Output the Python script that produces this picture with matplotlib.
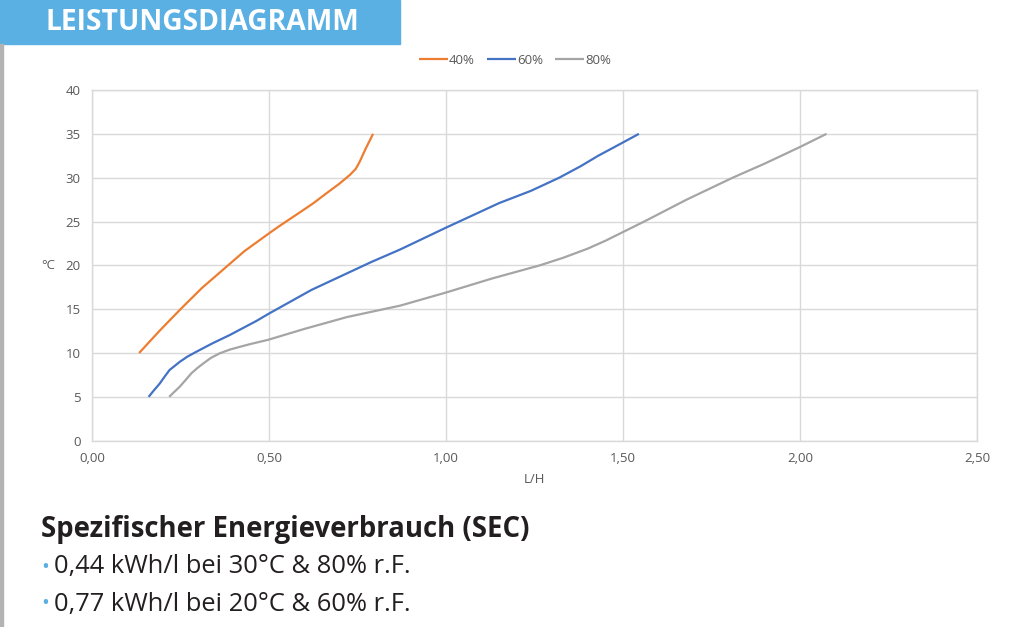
import matplotlib
matplotlib.use("Agg")
import matplotlib.pyplot as plt
from matplotlib.patches import Rectangle

plt.rcParams["font.family"] = ["Open Sans", "DejaVu Sans"]

# --- data -------------------------------------------------------------------
x40 = [0.133, 0.19, 0.25, 0.31, 0.37, 0.43, 0.50, 0.53, 0.58, 0.624, 0.66,
       0.70, 0.728, 0.745, 0.756, 0.773, 0.794]
y40 = [10.0, 12.5, 15.0, 17.4, 19.5, 21.6, 23.65, 24.5, 25.85, 27.05, 28.15,
       29.35, 30.3, 31.0, 31.8, 33.3, 35.0]

x60 = [0.16, 0.175, 0.191, 0.205, 0.219, 0.248, 0.27, 0.295, 0.34, 0.389,
       0.464, 0.50, 0.62, 0.79, 0.87, 1.00, 1.15, 1.24, 1.32, 1.38, 1.43, 1.49, 1.545]
y60 = [5.0, 5.75, 6.5, 7.3, 8.06, 9.0, 9.6, 10.15, 11.1, 12.05,
       13.65, 14.5, 17.2, 20.4, 21.8, 24.3, 27.1, 28.5, 30.0, 31.3, 32.5, 33.8, 35.0]

x80 = [0.218, 0.232, 0.248, 0.265, 0.281, 0.298, 0.314, 0.336, 0.361, 0.39,
       0.417, 0.45, 0.497, 0.60, 0.72, 0.87, 1.00, 1.13, 1.265, 1.33, 1.40,
       1.45, 1.50, 1.56, 1.68, 1.81, 1.90, 2.00, 2.075]
y80 = [5.0, 5.55, 6.16, 6.95, 7.7, 8.3, 8.8, 9.45, 9.97, 10.4,
       10.7, 11.05, 11.5, 12.75, 14.1, 15.4, 16.9, 18.5, 20.0, 20.85, 21.9,
       22.8, 23.8, 25.0, 27.5, 30.0, 31.6, 33.5, 35.0]

series_labels = ["40%", "60%", "80%"]
xticks = [0.0, 0.5, 1.0, 1.5, 2.0, 2.5]
xtick_labels = ["0,00", "0,50", "1,00", "1,50", "2,00", "2,50"]
yticks = [0, 5, 10, 15, 20, 25, 30, 35, 40]

header = "LEISTUNGSDIAGRAMM"
sec_title = "Spezifischer Energieverbrauch (SEC)"
sec_lines = ["0,44 kWh/l bei 30°C & 80% r.F.", "0,77 kWh/l bei 20°C & 60% r.F."]

colors = ["#ed7d31", "#4472c4", "#a5a5a5"]
grid_c = "#d9d9d9"
tick_c = "#595959"
header_blue = "#5aafe3"
text_dark = "#231f20"

# --- figure -----------------------------------------------------------------
fig = plt.figure(figsize=(10.24, 6.27), dpi=100)
ax = fig.add_axes([92 / 1024, 1 - 440.7 / 627, 885 / 1024, 350.7 / 627])

for xs, ys, c, lab in zip([x40, x60, x80], [y40, y60, y80], colors, series_labels):
    ax.plot(xs, ys, color=c, lw=1.6, label=lab, solid_capstyle="butt",
            solid_joinstyle="round")

ax.set_xlim(0, 2.5)
ax.set_ylim(0, 40)
ax.set_xticks(xticks, xtick_labels)
ax.set_yticks(yticks)
ax.grid(True, color=grid_c, lw=1.0)
ax.set_axisbelow(True)
for s in ax.spines.values():
    s.set_color(grid_c)
    s.set_linewidth(1.0)
ax.tick_params(length=0, colors=tick_c, labelsize=9.5, pad=8)
ax.set_xlabel("L/H", color=tick_c, fontsize=9.5, labelpad=6)
ax.set_ylabel("°C", color=tick_c, fontsize=9.5, rotation=0, va="center")
ax.yaxis.set_label_coords(-0.05, 0.5)

leg = fig.legend(loc="center", bbox_to_anchor=(0.503, 0.904), ncol=3,
                 frameon=False, fontsize=9.5, handlelength=2.2,
                 handletextpad=0.1, columnspacing=0.9)
for t in leg.get_texts():
    t.set_color(tick_c)

# header box
fig.patches.append(Rectangle((0, 1 - 44 / 627), 400 / 1024, 44 / 627,
                             transform=fig.transFigure, color=header_blue,
                             zorder=0))
fig.text(46 / 1024, 1 - 23 / 627, header, color="white", fontsize=20.3,
         fontweight="bold", va="center", ha="left")

# left border line
fig.patches.append(Rectangle((0, 0), 2.5 / 1024, 1 - 44 / 627,
                             transform=fig.transFigure, color="#b3b3b3"))

# SEC text block
fig.text(41 / 1024, 1 - 529 / 627, sec_title, color=text_dark, fontsize=19.8,
         fontweight="bold", va="center", ha="left")
for i, line in enumerate(sec_lines):
    yy = 1 - (567 + 37 * i) / 627
    fig.text(41 / 1024, yy, "•", color=header_blue, fontsize=15, va="center",
             ha="left")
    fig.text(54 / 1024, yy, line, color=text_dark, fontsize=18.4, va="center",
             ha="left")

fig.savefig("out.png", dpi=100)
